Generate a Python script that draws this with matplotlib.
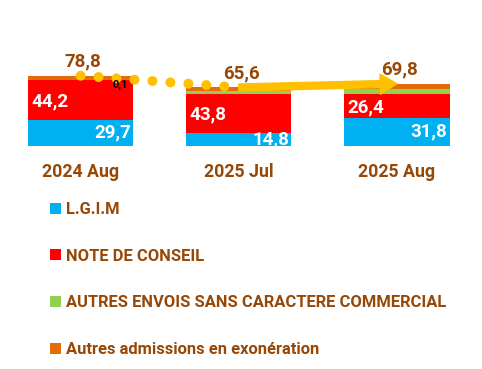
import matplotlib
matplotlib.use('Agg')
import matplotlib.pyplot as plt
import numpy as np

plt.rcParams['font.family'] = ['Roboto', 'DejaVu Sans']
plt.rcParams['font.weight'] = 'bold'

categories = ['2024 Aug', '2025 Jul', '2025 Aug']
lgim = [29.7, 14.8, 31.8]
note_conseil = [44.2, 43.8, 26.4]
autres_envois = [0.1, 3.6, 5.8]
autres_adm = [4.8, 3.4, 5.8]

series_names = ['L.G.I.M', 'NOTE DE CONSEIL',
                'AUTRES ENVOIS SANS CARACTERE COMMERCIAL',
                'Autres admissions en exonération']
colors = ['#00B0F0', '#FF0000', '#92D050', '#E36C09']
brown = '#974806'
gold = '#FFC000'

def fmt(v):
    return '{:.1f}'.format(v).replace('.', ',')

fig = plt.figure(figsize=(4.82, 3.69), dpi=100)
ax = fig.add_axes([1.5/482, (369-146)/369, 474.5/482, 80.3/369])

x = np.arange(len(categories))
w = 0.665
bottom = np.zeros(len(categories))
bars = []
for vals, c, name in zip([lgim, note_conseil, autres_envois, autres_adm], colors, series_names):
    b = ax.bar(x, vals, w, bottom=bottom, color=c, label=name, zorder=2)
    bars.append(b)
    bottom = bottom + np.array(vals)
totals = bottom

# blue labels, right aligned
for i, v in enumerate(lgim):
    ax.text(x[i] + w/2 - 0.015, v/2, fmt(v), color='white', fontsize=13.5,
            fontweight='bold', ha='right', va='center', zorder=5)
# red labels, left aligned
for i, v in enumerate(note_conseil):
    ax.text(x[i] - w/2 + 0.02, lgim[i] + v/2 - 1.5, fmt(v), color='white', fontsize=13.5,
            fontweight='bold', ha='left', va='center', zorder=5)
# small green label on first bar
ax.text(x[0] + 0.25, lgim[0] + note_conseil[0] + 0.5, fmt(autres_envois[0]), color='black',
        fontsize=8, fontweight='bold', ha='center', va='top', zorder=6)
# totals
for i, t in enumerate(totals):
    ax.annotate(fmt(t), (x[i], t), xytext=(2, 3.5), textcoords='offset points',
                ha='center', va='bottom', color=brown, fontsize=13.5, fontweight='bold',
                zorder=6, annotation_clip=False)

# trend connectors
ax.plot(x[:2], totals[:2], color=gold, lw=7.2, linestyle=(0, (0.001, 1.8)),
        dash_capstyle='round', zorder=4, clip_on=False)
ax.annotate('', xy=(x[2], totals[2]), xytext=(x[1], totals[1]),
            arrowprops=dict(arrowstyle='simple,head_width=1.45,head_length=1.2,tail_width=0.5',
                            mutation_scale=10, color=gold, shrinkA=0, shrinkB=0),
            zorder=4, annotation_clip=False)

ax.set_xlim(-0.5, 2.5)
ax.set_ylim(0, 90)
ax.set_xticks(x)
ax.set_xticklabels(categories, color=brown, fontsize=12.8, fontweight='bold')
ax.tick_params(axis='x', length=0, pad=12)
ax.set_yticks([])
for s in ax.spines.values():
    s.set_visible(False)

fig.legend(handles=bars, loc='upper left', bbox_to_anchor=(50/482, 1 - 202/369),
           frameon=False, labelcolor=brown, labelspacing=1.92,
           prop={'size': 11.9, 'weight': 'bold'},
           handlelength=0.65, handleheight=0.65, handletextpad=0.3, borderpad=0,
           borderaxespad=0)

fig.savefig('out.png', dpi=100)
